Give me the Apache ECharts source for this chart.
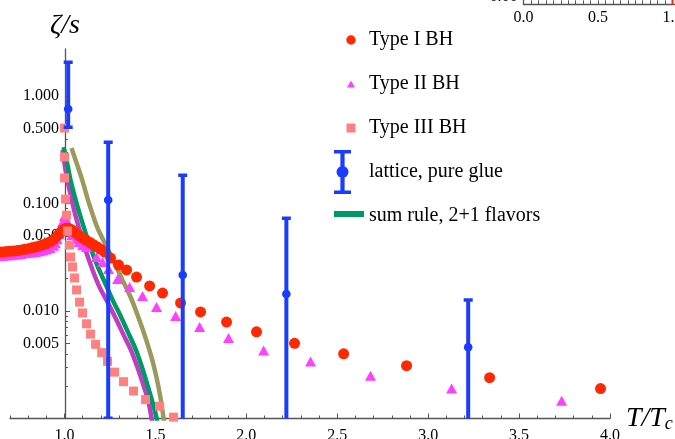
<!DOCTYPE html>
<html><head><meta charset="utf-8">
<script src="https://cdn.jsdelivr.net/npm/echarts@6/dist/echarts.min.js"></script>
<style>html,body{margin:0;padding:0;background:#fff}#c{width:675px;height:439px}</style>
</head><body><div id="c"></div><script>
// ---- data (T/Tc and zeta/s) ----
const typeI_T = [0.64,0.66,0.68,0.70,0.72,0.74,0.76,0.78,0.80,0.82,0.84,0.86,0.88,0.90,0.92,0.94,0.96,0.97,0.98,0.99,1.00,1.01,1.02,1.03,1.04,1.05,1.06,1.08,1.10,1.12,1.14,1.16,1.18,1.20,
  1.220,1.253,1.297,1.341,1.396,1.468,1.539,1.638,1.748,1.891,2.056,2.265,2.535,2.881,3.338,3.948];
const typeI_V = [0.0354,0.0355,0.0358,0.0360,0.0361,0.0365,0.0369,0.0375,0.0380,0.0387,0.0394,0.0402,0.0413,0.0424,0.0440,0.0464,0.0499,0.0521,0.0543,0.0568,0.0579,0.0588,0.0588,0.0579,0.0568,0.0550,0.0534,0.0503,0.0477,0.0455,0.0434,0.0413,0.0394,0.0375,
  0.0354,0.0311,0.0268,0.0241,0.0207,0.0171,0.0147,0.0119,0.0098,0.0079,0.0064,0.0050,0.0040,0.0031,0.0024,0.0019];

const typeII_T = [0.64,0.66,0.68,0.70,0.72,0.74,0.76,0.78,0.80,0.82,0.84,0.86,0.88,0.90,0.92,0.94,0.95,0.96,0.97,0.98,0.99,1.00,1.01,1.02,1.03,1.04,1.06,1.08,1.10,
  1.121,1.176,1.209,1.242,1.292,1.358,1.429,1.506,1.611,1.743,1.902,2.095,2.353,2.683,3.129,3.734];
const typeII_V = [0.0325,0.0326,0.0329,0.0331,0.0333,0.0336,0.0340,0.0344,0.0348,0.0351,0.0355,0.0360,0.0366,0.0373,0.0385,0.0405,0.0428,0.0466,0.0521,0.0592,0.0674,0.0765,0.0702,0.0616,0.0555,0.0509,0.0466,0.0438,0.0410,
  0.0394,0.0318,0.0286,0.0246,0.0199,0.0167,0.0138,0.0109,0.0090,0.0071,0.0056,0.0043,0.0034,0.0025,0.0019,0.00146];

const typeIII_T = [1.000,1.000,1.000,1.0055,1.011,1.0165,1.0275,1.033,1.044,1.055,1.066,1.0825,1.099,1.121,1.143,1.171,1.204,1.2365,1.275,1.3245,1.3795,1.4455,1.5225,1.5995];
const typeIII_V = [0.504,0.271,0.173,0.110,0.078,0.0555,0.0411,0.0318,0.0257,0.0203,0.0157,0.0121,0.0096,0.0076,0.0061,0.0049,0.0041,0.0034,0.0027,0.0022,0.0018,0.0015,0.0013,0.00103];

const lattice_T  = [1.02,1.24,1.65,2.22,3.22];
const lattice_V  = [0.757,0.108,0.0216,0.0144,0.0046];
const lattice_lo = [0.51,0.001,0.0002,0.0002,0.0002];
const lattice_hi = [2.07,0.373,0.184,0.0733,0.0127];

const sumPurple_T = [0.989,1.0055,1.0275,1.055,1.0825,1.1155,1.154,1.1925,1.2365,1.2805,1.3245,1.3685,1.407,1.440,1.462,1.4785,1.484];
const sumPurple_V = [0.315,0.205,0.1336,0.0834,0.0567,0.0369,0.0241,0.0167,0.0121,0.0086,0.0060,0.0042,0.0028,0.0019,0.00142,0.00101,0.00087];
const sumGreen_T = [0.9945,1.011,1.033,1.066,1.0935,1.1375,1.1815,1.2255,1.264,1.308,1.352,1.396,1.4345,1.4675,1.4895,1.506,1.5115];
const sumGreen_V = [0.335,0.254,0.165,0.101,0.0702,0.0411,0.0262,0.0178,0.0127,0.0090,0.0062,0.0042,0.0027,0.00176,0.00131,0.00101,0.00087];
const sumOlive_T = [1.0385,1.0605,1.0935,1.1375,1.1815,1.231,1.275,1.319,1.363,1.4015,1.44,1.4785,1.506,1.528,1.5445,1.55];
const sumOlive_V = [0.328,0.254,0.173,0.097,0.059,0.040,0.028,0.0194,0.0135,0.0092,0.0060,0.0037,0.0024,0.00155,0.00101,0.00087];

// ---- ticks ----
const xMajor = [1.0,1.5,2.0,2.5,3.0,3.5,4.0];
const xMinor = [0.7,0.8,0.9,1.1,1.2,1.3,1.4,1.6,1.7,1.8,1.9,2.1,2.2,2.3,2.4,2.6,2.7,2.8,2.9,3.1,3.2,3.3,3.4,3.6,3.7,3.8,3.9];
const yMajor = [0.005,0.01,0.05,0.1,0.5,1];
const yMinor = [0.002,0.003,0.004,0.006,0.007,0.008,0.009,0.02,0.03,0.04,0.06,0.07,0.08,0.09,0.2,0.3,0.4,0.6,0.7,0.8,0.9,2];
const insetXLabels = [0.0,0.5,1.0];
const insetXTicks = [0,0.05,0.1,0.15,0.2,0.25,0.3,0.35,0.4,0.45,0.5,0.55,0.6,0.65,0.7,0.75,0.8,0.85,0.9,0.95,1.0,1.05,1.1,1.15,1.2];
const insetYLabels = [0];
const insetRedMark_T = [1.0,1.0];
const insetRedMark_V = [0,5];

const zip = (a,b) => a.map((v,i)=>[v,b[i]]);
const SERIF = 'Liberation Serif';
const AX = '#555';

const BOX = 'M0 0 M30 44 ';
const icons = {
  circle: 'path://' + BOX + 'M12.3 22 A4.7 4.7 0 1 1 21.7 22 A4.7 4.7 0 1 1 12.3 22 Z',
  tri: 'path://' + BOX + 'M13 25.5 L21 25.5 L17 18.5 Z',
  sq: 'path://' + BOX + 'M12.5 17.5 L21.5 17.5 L21.5 26.5 L12.5 26.5 Z',
  lat: 'path://' + BOX + 'M0 0 L17 0 L17 3.5 L0 3.5 Z M6.4 0 L10.6 0 L10.6 44 L6.4 44 Z M0 40.5 L17 40.5 L17 44 L0 44 Z M2.5 22 A6 6 0 1 1 14.5 22 A6 6 0 1 1 2.5 22 Z',
  line: 'path://' + BOX + 'M0 17 L30 17 L30 23 L0 23 Z'
};

const chart = echarts.init(document.getElementById('c'), null, {renderer:'canvas'});
const opt = {
  animation: false,
  backgroundColor: '#fff',
  grid: [
    {left: 10, right: 65, top: 49, bottom: 20.5, outerBoundsMode: 'none'},
    {left: 523.5, width: 178.8, top: -40, height: 44.3, outerBoundsMode: 'none'}
  ],
  legend: {
    orient: 'vertical', left: 334, top: 18, padding: 0, itemGap: 0, itemWidth: 30, itemHeight: 44,
    selectedMode: false,
    itemStyle: {borderWidth: 0},
    textStyle: {fontFamily: SERIF, fontSize: 20, color: '#000'},
    data: [
      {name: 'Type I BH', icon: icons.circle, itemStyle:{borderWidth:0}},
      {name: 'Type II BH', icon: icons.tri, itemStyle:{borderWidth:0}},
      {name: 'Type III BH', icon: icons.sq, itemStyle:{borderWidth:0}},
      {name: 'lattice, pure glue', icon: icons.lat, itemStyle:{borderWidth:0}},
      {name: 'sum rule, 2+1 flavors', icon: icons.line, itemStyle:{borderWidth:0}}
    ]
  },
  xAxis: [
    {type:'value', gridIndex:0, min:0.7, max:4.0, position:'bottom',
     axisLine:{show:true, lineStyle:{color:AX, width:1.3}},
     axisTick:{show:true, inside:true, length:5, customValues:xMajor, lineStyle:{color:AX}},
     axisLabel:{show:true, customValues:xMajor, formatter:v=>Number(v).toFixed(1), fontFamily:SERIF, fontSize:16, color:'#000', margin:9},
     splitLine:{show:false},
     name:'{i|T}{i|/}{i|T}{s|c}', nameLocation:'end', nameGap:11,
     nameTextStyle:{rich:{i:{fontFamily:SERIF, fontStyle:'italic', fontSize:28, color:'#000'},
                          s:{fontFamily:SERIF, fontStyle:'italic', fontSize:18, color:'#000', padding:[12,0,0,0], verticalAlign:'top'}}}
    },
    {type:'value', gridIndex:0, min:0.7, max:4.0, position:'bottom',
     axisLine:{show:false}, axisTick:{show:true, inside:true, length:3, customValues:xMinor, lineStyle:{color:AX}},
     axisLabel:{show:false}, splitLine:{show:false}},
    {type:'value', gridIndex:1, min:0, max:1.2, position:'bottom',
     axisLine:{show:true, lineStyle:{color:AX, width:1.3}},
     axisTick:{show:true, inside:true, length:4, customValues:insetXTicks, lineStyle:{color:AX}},
     axisLabel:{show:true, customValues:insetXLabels, formatter:v=>Number(v).toFixed(1), fontFamily:SERIF, fontSize:16, color:'#000', margin:5},
     splitLine:{show:false}}
  ],
  yAxis: [
    {type:'log', logBase:10, gridIndex:0, min:0.001, max:2.74, position:'left', offset:-55,
     axisLine:{show:true, lineStyle:{color:AX, width:1.3}},
     axisTick:{show:true, inside:true, length:5, customValues:yMajor, lineStyle:{color:AX}},
     axisLabel:{show:true, customValues:yMajor, formatter:v=>Number(v).toFixed(3), fontFamily:SERIF, fontSize:16, color:'#000', margin:6},
     splitLine:{show:false}, minorTick:{show:false},
     name:'ζ/s', nameLocation:'end', nameGap:9,
     nameTextStyle:{fontFamily:SERIF, fontStyle:'italic', fontSize:28, color:'#000'}
    },
    {type:'log', logBase:10, gridIndex:0, min:0.001, max:2.74, position:'left', offset:-55,
     axisLine:{show:false}, axisTick:{show:true, inside:true, length:3, customValues:yMinor, lineStyle:{color:AX}},
     axisLabel:{show:false}, splitLine:{show:false}},
    {type:'value', gridIndex:1, min:0, max:1, position:'left',
     axisLine:{show:true, lineStyle:{color:AX, width:1.3}},
     axisTick:{show:true, inside:true, length:4, customValues:insetYLabels, lineStyle:{color:AX}},
     axisLabel:{show:true, customValues:insetYLabels, formatter:v=>Number(v).toFixed(2), fontFamily:SERIF, fontSize:16, color:'#000', margin:6, verticalAlign:'bottom'},
     splitLine:{show:false}}
  ],
  series: [
    {name:'sum rule, lower', type:'line', xAxisIndex:0, yAxisIndex:0, data:zip(sumPurple_T,sumPurple_V), showSymbol:false, smooth:0.3, z:2,
     lineStyle:{color:'#c03cc0', width:4.5}, itemStyle:{color:'#c03cc0'}},
    {name:'sum rule, upper', type:'line', xAxisIndex:0, yAxisIndex:0, data:zip(sumOlive_T,sumOlive_V), showSymbol:false, smooth:0.3, z:2,
     lineStyle:{color:'#9b9a5c', width:4.5}, itemStyle:{color:'#9b9a5c'}},
    {name:'sum rule, 2+1 flavors', type:'line', xAxisIndex:0, yAxisIndex:0, data:zip(sumGreen_T,sumGreen_V), showSymbol:false, smooth:0.3, z:2,
     lineStyle:{color:'#009966', width:4.5}, itemStyle:{color:'#009966'}},
    {name:'Type II BH', type:'scatter', xAxisIndex:0, yAxisIndex:0, data:zip(typeII_T,typeII_V), symbol:'triangle', symbolSize:[11,10], clip:false, z:3,
     itemStyle:{color:'#ff40ff', opacity:1}},
    {name:'Type I BH', type:'scatter', xAxisIndex:0, yAxisIndex:0, data:zip(typeI_T,typeI_V), symbol:'circle', symbolSize:11, clip:false, z:4,
     itemStyle:{color:'#ff2800', opacity:1}},
    {name:'Type III BH', type:'scatter', xAxisIndex:0, yAxisIndex:0, data:zip(typeIII_T,typeIII_V), symbol:'rect', symbolSize:9, z:5,
     itemStyle:{color:'#ff8080', opacity:1}},
    {name:'lattice, pure glue', type:'custom', xAxisIndex:0, yAxisIndex:0, clip:true, z:6,
     itemStyle:{color:'#1a3cff'},
     data: lattice_T.map((t,i)=>[t, lattice_V[i], lattice_lo[i], lattice_hi[i]]),
     renderItem: function(params, api){
       const t = api.value(0);
       const p = api.coord([t, api.value(1)]);
       const pl = api.coord([t, api.value(2)]);
       const ph = api.coord([t, api.value(3)]);
       const c = api.visual('color');
       return {type:'group', children:[
         {type:'rect', shape:{x:p[0]-2, y:ph[1], width:4, height:pl[1]-ph[1]}, style:{fill:c}},
         {type:'rect', shape:{x:p[0]-4.5, y:ph[1]-1.5, width:9, height:3.5}, style:{fill:c}},
         {type:'rect', shape:{x:p[0]-4.5, y:pl[1]-2, width:9, height:3.5}, style:{fill:c}},
         {type:'circle', shape:{cx:p[0], cy:p[1], r:4.3}, style:{fill:c}}
       ]};
     }
    },
    {name:'inset', type:'line', xAxisIndex:2, yAxisIndex:2, data:zip(insetRedMark_T,insetRedMark_V), showSymbol:false,
     lineStyle:{color:'#ff2800', width:2}}
  ]
};
chart.setOption(opt);
</script></body></html>
